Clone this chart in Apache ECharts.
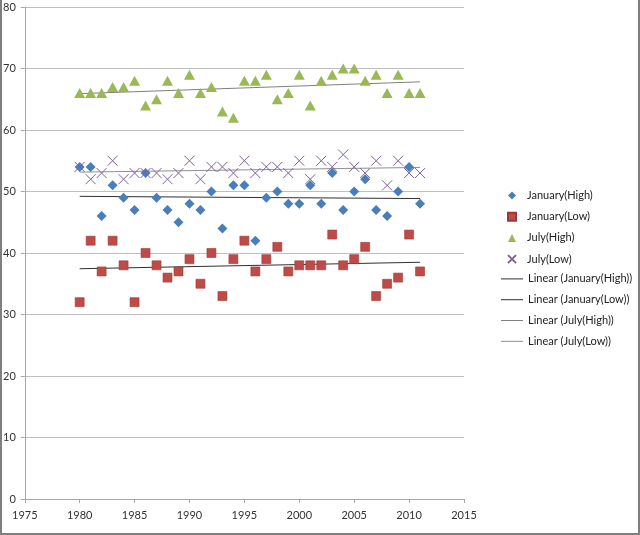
<!DOCTYPE html>
<html><head><meta charset="utf-8">
<script src="https://cdn.jsdelivr.net/npm/echarts@6/dist/echarts.min.js"></script>
<style>
html,body{margin:0;padding:0;background:#fff;}
#wrap{position:absolute;left:0;top:0;width:640px;height:535px;box-sizing:border-box;border-left:2px solid #7f7f7f;border-right:2px solid #7f7f7f;border-bottom:2px solid #7f7f7f;}
#c{position:absolute;left:0;top:0;width:640px;height:535px;}
</style></head>
<body><div id="c"></div><div id="wrap"></div>
<script>
const years = [1980,1981,1982,1983,1984,1985,1986,1987,1988,1989,1990,1991,1992,1993,1994,1995,1996,1997,1998,1999,2000,2001,2002,2003,2004,2005,2006,2007,2008,2009,2010,2011];
const janHigh = [54,54,46,51,49,47,53,49,47,45,48,47,50,44,51,51,42,49,50,48,48,51,48,53,47,50,52,47,46,50,54,48];
const janLow  = [32,42,37,42,38,32,40,38,36,37,39,35,40,33,39,42,37,39,41,37,38,38,38,43,38,39,41,33,35,36,43,37];
const julHigh = [66,66,66,67,67,68,64,65,68,66,69,66,67,63,62,68,68,69,65,66,69,64,68,69,70,70,68,69,66,69,66,66];
const julLow  = [54,52,53,55,52,53,53,53,52,53,55,52,54,54,53,55,53,54,54,53,55,52,55,54,56,54,53,55,51,55,53,53];
const xTicks = [1975,1980,1985,1990,1995,2000,2005,2010,2015];
const yTicks = [0,10,20,30,40,50,60,70,80];
const names = ['January(High)','January(Low)','July(High)','July(Low)'];
const trendNames = ['Linear (January(High))','Linear (January(Low))','Linear (July(High))','Linear (July(Low))'];

function pts(v){ return years.map((y,i)=>[y,v[i]]); }
function trend(v){
  const n=years.length; let sx=0,sy=0,sxx=0,sxy=0;
  for(let i=0;i<n;i++){sx+=years[i];sy+=v[i];sxx+=years[i]*years[i];sxy+=years[i]*v[i];}
  const b=(n*sxy-sx*sy)/(n*sxx-sx*sx), a=(sy-b*sx)/n;
  const x0=years[0], x1=years[n-1];
  return [[x0,a+b*x0],[x1,a+b*x1]];
}
const colors = ['#4A7EBB','#BE4B48','#98B954','#7D60A0'];
const trendColors = ['#303030','#303030','#808080','#909090'];
const chart = echarts.init(document.getElementById('c'), null, {renderer:'canvas'});
const font = "'Liberation Sans Narrow', Lato, sans-serif";
const series = [
  {name:names[0], type:'scatter', data:pts(janHigh), symbol:'diamond', symbolSize:[10,10], itemStyle:{color:colors[0], opacity:1}, z:5},
  {name:names[1], type:'scatter', data:pts(janLow), symbol:'rect', symbolSize:[9,9], itemStyle:{color:colors[1], borderColor:'#9c3a37', borderWidth:0.6, opacity:1}, z:4},
  {name:names[2], type:'scatter', data:pts(julHigh), symbol:'triangle', symbolSize:[11,10], itemStyle:{color:colors[2], opacity:1}, z:4},
  {name:names[3], type:'scatter', data:pts(julLow), symbol:'path://M0,0L10,10M10,0L0,10', symbolSize:[10,10], itemStyle:{color:'rgba(0,0,0,0)', borderColor:colors[3], borderWidth:1, opacity:1}, z:6},
];
[janHigh,janLow,julHigh,julLow].forEach((v,i)=>{
  series.push({name:trendNames[i], type:'line', data:trend(v), symbol:'none', silent:true,
    lineStyle:{color:trendColors[i], width:1}, itemStyle:{color:trendColors[i]}, z:3});
});
const legText = {color:'#222', fontFamily:font, fontSize:11};
chart.setOption({
  animation:false,
  backgroundColor:'#fff',
  grid:{left:24, top:7, right:176, bottom:36, containLabel:false},
  xAxis:{type:'value', min:xTicks[0], max:xTicks[xTicks.length-1], interval:5,
    axisLine:{lineStyle:{color:'#a6a6a6'}}, axisTick:{show:true, inside:false, length:4, lineStyle:{color:'#a6a6a6'}},
    splitLine:{show:false},
    axisLabel:{color:'#333', fontFamily:font, fontSize:11, margin:11, formatter:v=>String(v)}},
  yAxis:{type:'value', min:yTicks[0], max:yTicks[yTicks.length-1], interval:10,
    axisLine:{show:true, lineStyle:{color:'#a6a6a6'}}, axisTick:{show:true, length:4, lineStyle:{color:'#a6a6a6'}},
    splitLine:{show:true, lineStyle:{color:'#bfbfbf'}},
    axisLabel:{color:'#333', fontFamily:font, fontSize:11, margin:9, formatter:v=>String(v)}},
  legend:[
    {orient:'vertical', left:502, top:185, itemWidth:8, itemHeight:8, itemGap:10.2, padding:5,
      selectedMode:false, textStyle:Object.assign({padding:[0,0,0,6]}, legText), data:names},
    {orient:'vertical', left:496, top:185+4*20.85, itemWidth:22, itemHeight:1, itemGap:9.8, padding:5,
      selectedMode:false, icon:'rect', textStyle:legText, data:trendNames}
  ],
  series:series
});
</script></body></html>
